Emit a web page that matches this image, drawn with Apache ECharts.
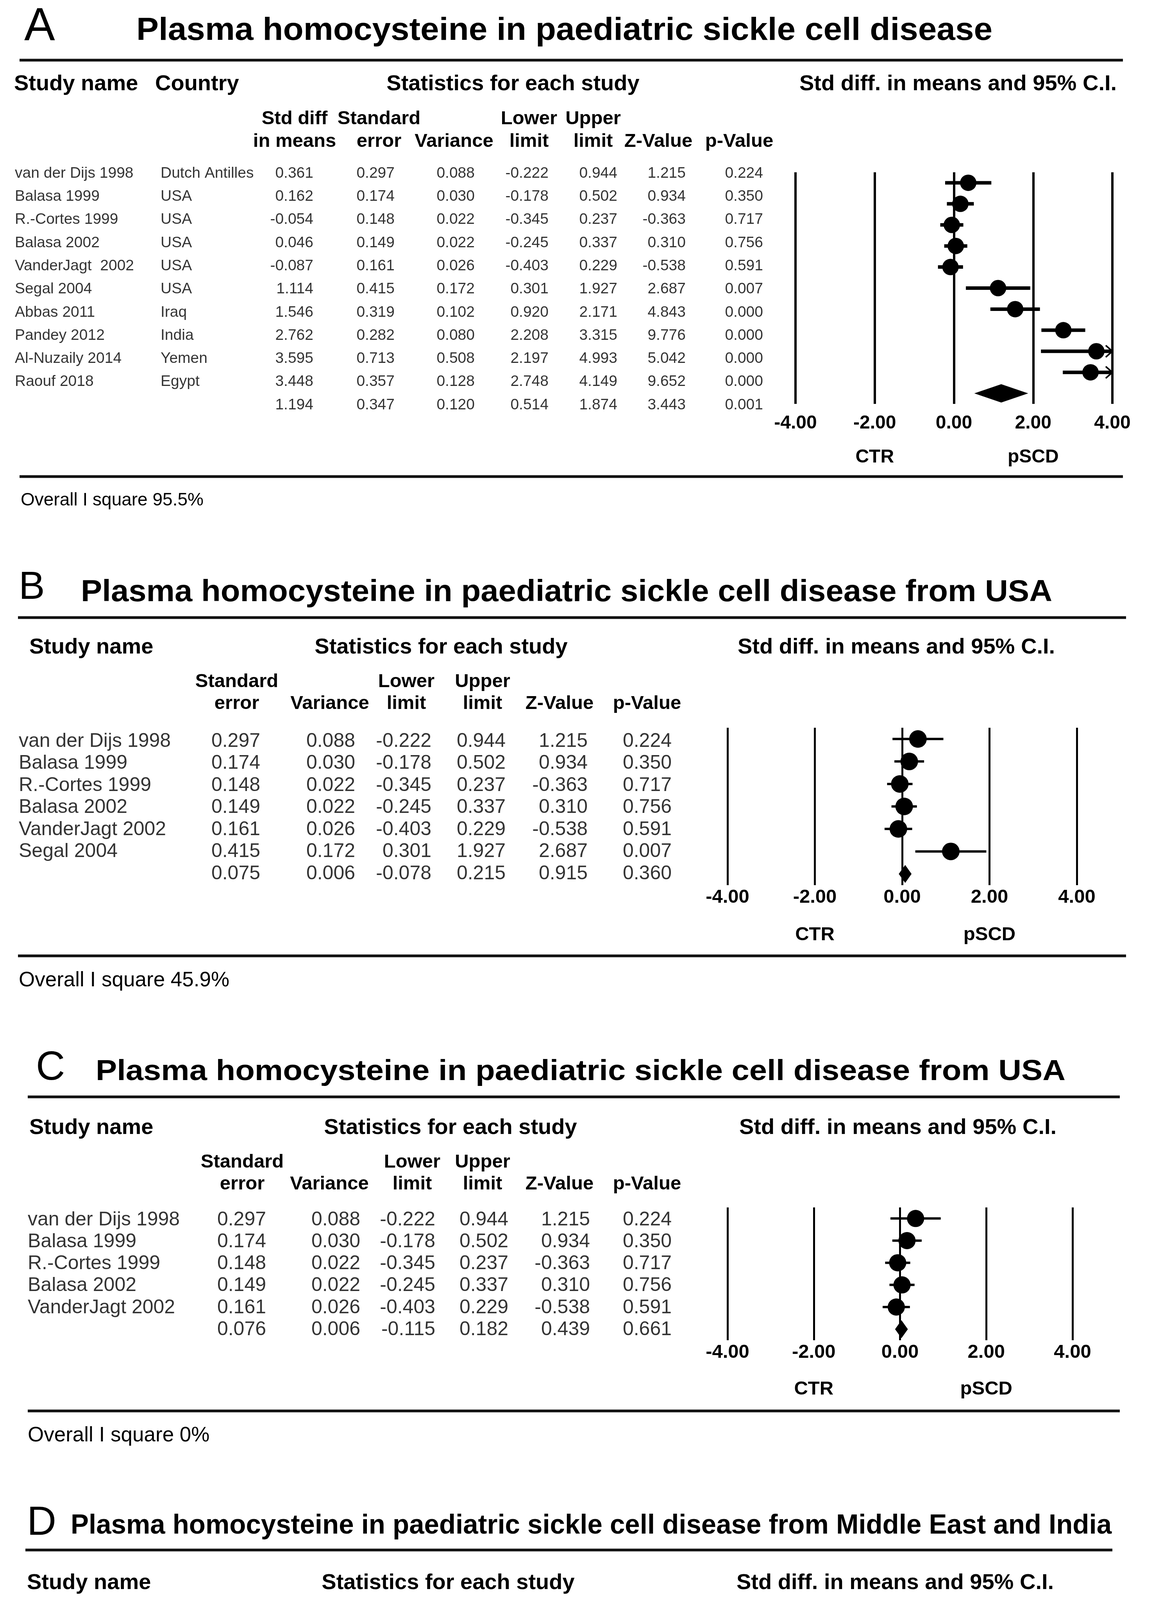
<!DOCTYPE html>
<html><head><meta charset="utf-8">
<script src="https://cdn.jsdelivr.net/npm/echarts@6/dist/echarts.min.js"></script>
<style>html,body{margin:0;padding:0;background:#fff;}#c{width:2974px;height:4836px;}</style>
</head><body><div id="c"></div>
<script>
// ---------------- DATA ----------------
const titleA = 'Plasma homocysteine in paediatric sickle cell disease';
const titleB = 'Plasma homocysteine in paediatric sickle cell disease from USA';
const titleC = 'Plasma homocysteine in paediatric sickle cell disease from USA';
const titleD = 'Plasma homocysteine in paediatric sickle cell disease from Middle East and India';

// Panel A (last element of each numeric array = pooled summary row)
const studiesA = ['van der Dijs 1998','Balasa 1999','R.-Cortes 1999','Balasa 2002','VanderJagt  2002','Segal 2004','Abbas 2011','Pandey 2012','Al-Nuzaily 2014','Raouf 2018'];
const countriesA = ['Dutch Antilles','USA','USA','USA','USA','USA','Iraq','India','Yemen','Egypt'];
const smdA   = [0.361, 0.162, -0.054, 0.046, -0.087, 1.114, 1.546, 2.762, 3.595, 3.448, 1.194];
const seA    = [0.297, 0.174, 0.148, 0.149, 0.161, 0.415, 0.319, 0.282, 0.713, 0.357, 0.347];
const varA   = [0.088, 0.030, 0.022, 0.022, 0.026, 0.172, 0.102, 0.080, 0.508, 0.128, 0.120];
const lowerA = [-0.222, -0.178, -0.345, -0.245, -0.403, 0.301, 0.920, 2.208, 2.197, 2.748, 0.514];
const upperA = [0.944, 0.502, 0.237, 0.337, 0.229, 1.927, 2.171, 3.315, 4.993, 4.149, 1.874];
const zA     = [1.215, 0.934, -0.363, 0.310, -0.538, 2.687, 4.843, 9.776, 5.042, 9.652, 3.443];
const pA     = [0.224, 0.350, 0.717, 0.756, 0.591, 0.007, 0.000, 0.000, 0.000, 0.000, 0.001];
const i2A = '95.5%';

// Panel B
const studiesB = ['van der Dijs 1998','Balasa 1999','R.-Cortes 1999','Balasa 2002','VanderJagt 2002','Segal 2004'];
const smdB   = [0.361, 0.162, -0.054, 0.046, -0.087, 1.114, 0.069];
const seB    = [0.297, 0.174, 0.148, 0.149, 0.161, 0.415, 0.075];
const varB   = [0.088, 0.030, 0.022, 0.022, 0.026, 0.172, 0.006];
const lowerB = [-0.222, -0.178, -0.345, -0.245, -0.403, 0.301, -0.078];
const upperB = [0.944, 0.502, 0.237, 0.337, 0.229, 1.927, 0.215];
const zB     = [1.215, 0.934, -0.363, 0.310, -0.538, 2.687, 0.915];
const pB     = [0.224, 0.350, 0.717, 0.756, 0.591, 0.007, 0.360];
const i2B = '45.9%';

// Panel C
const studiesC = ['van der Dijs 1998','Balasa 1999','R.-Cortes 1999','Balasa 2002','VanderJagt 2002'];
const smdC   = [0.361, 0.162, -0.054, 0.046, -0.087, 0.033];
const seC    = [0.297, 0.174, 0.148, 0.149, 0.161, 0.076];
const varC   = [0.088, 0.030, 0.022, 0.022, 0.026, 0.006];
const lowerC = [-0.222, -0.178, -0.345, -0.245, -0.403, -0.115];
const upperC = [0.944, 0.502, 0.237, 0.337, 0.229, 0.182];
const zC     = [1.215, 0.934, -0.363, 0.310, -0.538, 0.439];
const pC     = [0.224, 0.350, 0.717, 0.756, 0.591, 0.661];
const i2C = '0%';

// Panel D
const studiesD = ['Abbas 2011','Pandey 2012','Al-Nuzaily 2014','Raouf 2018'];
const smdD   = [1.546, 2.762, 3.595, 3.448, 2.608];
const seD    = [0.319, 0.282, 0.713, 0.357, 0.176];
const varD   = [0.102, 0.080, 0.508, 0.128, 0.031];
const lowerD = [0.920, 2.208, 2.197, 2.748, 2.263];
const upperD = [2.171, 3.315, 4.993, 4.149, 2.954];
const zD     = [4.843, 9.776, 5.042, 9.652, 14.791];
const pD     = [0.000, 0.000, 0.000, 0.000, 0.000];
const i2D = '84.0%';

// Axis tick labels
const tickValues = [-4, -2, 0, 2, 4];
const sideLabels = { '-2': 'CTR', '2': 'pSCD' };
const ciHeader = 'Std diff. in means and 95% C.I.';
const headsA = [['Std diff','in means'],['Standard','error'],['','Variance'],['Lower','limit'],['Upper','limit'],['','Z-Value'],['','p-Value']];
const headsBCD = [['Standard','error'],['','Variance'],['Lower','limit'],['Upper','limit'],['','Z-Value'],['','p-Value']];

// ---------------- LAYOUT ----------------
const FONT = "'Liberation Sans', Arial, Helvetica, sans-serif";
const W = 2974, H = 4836;
const layoutA = {letterX:62, letterY:70, letterSize:118, titleX:349, titleY:80, titleW:2191, titleSize:81,
  ruleX1:50, ruleX2:2874, ruleTopY:154, ruleBotY:1220, ruleW:7,
  headY:216, headSize:56, studyHeadX:36, countryHeadX:397, statsX:1313, ciHeadX:2452,
  sub1Y:304, sub2Y:362, subSize:49, colHead:[754,970,1162,1354,1518,1685,1892],
  row0:444, rowN:1037, nameX:38, countryX:411, colRight:[802,1010,1215,1404,1580,1755,1953], dataSize:39,
  fx0:2036, fx1:2847, ftop:441, fbot:1034, tickMargin:26, sideOffset:113, tickSize:48, ciW:9, gridW:6, dot:42, dH:47,
  overallX:53, overallY:1281, overallSize:46};
const layoutB = {letterX:48, letterY:1505, letterSize:100, titleX:207, titleY:1517, titleW:2486, titleSize:78,
  ruleX1:46, ruleX2:2882, ruleTopY:1581, ruleBotY:2447, ruleW:7,
  headY:1658, headSize:56, studyHeadX:75, statsX:1129, ciHeadX:2294,
  sub1Y:1745, sub2Y:1801, subSize:49, colHead:[606,844,1040,1235,1432,1656],
  row0:1898, rowN:2237, nameX:48, colRight:[666,909,1104,1294,1504,1719], dataSize:50,
  fx0:1862, fx1:2756, ftop:1863, fbot:2266, tickMargin:7, sideOffset:103, tickSize:49, ciW:6, gridW:5, dot:45, dH:46,
  overallX:48, overallY:2510, overallSize:53};
const layoutC = {letterX:92, letterY:2736, letterSize:103, titleX:245, titleY:2745, titleW:2482, titleSize:74,
  ruleX1:71, ruleX2:2866, ruleTopY:2808, ruleBotY:3612, ruleW:7,
  headY:2888, headSize:56, studyHeadX:75, statsX:1153, ciHeadX:2298,
  sub1Y:2975, sub2Y:3031, subSize:49, colHead:[620,843,1055,1235,1432,1656],
  row0:3123, rowN:3404, nameX:71, colRight:[681,922,1114,1301,1510,1719], dataSize:50,
  fx0:1862, fx1:2745, ftop:3091, fbot:3431, tickMargin:7, sideOffset:101, tickSize:49, ciW:6, gridW:5, dot:44, dH:46,
  overallX:71, overallY:3675, overallSize:53};
const layoutD = {letterX:69, letterY:3900, letterSize:104, titleX:181, titleY:3907, titleW:2664, titleSize:70,
  ruleX1:65, ruleX2:2847, ruleTopY:3968, ruleBotY:4724, ruleW:7,
  headY:4053, headSize:56, studyHeadX:69, statsX:1147, ciHeadX:2291,
  sub1Y:4139, sub2Y:4198, subSize:49, colHead:[600,860,1058,1252,1449,1673],
  row0:4284, rowN:4512, nameX:67, colRight:[675,918,1114,1309,1527,1743], dataSize:50,
  fx0:1880, fx1:2727, ftop:4253, fbot:4541, tickMargin:5, sideOffset:99, tickSize:49, ciW:6, gridW:5, dot:45, dH:47,
  overallX:67, overallY:4784, overallSize:53};

const panels = [
  {letter:'A', title:titleA, names:studiesA, country:countriesA, cols:[smdA,seA,varA,lowerA,upperA,zA,pA], heads:headsA, smd:smdA, lower:lowerA, upper:upperA, i2:i2A, L:layoutA},
  {letter:'B', title:titleB, names:studiesB, cols:[seB,varB,lowerB,upperB,zB,pB], heads:headsBCD, smd:smdB, lower:lowerB, upper:upperB, i2:i2B, L:layoutB},
  {letter:'C', title:titleC, names:studiesC, cols:[seC,varC,lowerC,upperC,zC,pC], heads:headsBCD, smd:smdC, lower:lowerC, upper:upperC, i2:i2C, L:layoutC},
  {letter:'D', title:titleD, names:studiesD, cols:[seD,varD,lowerD,upperD,zD,pD], heads:headsBCD, smd:smdD, lower:lowerD, upper:upperD, i2:i2D, L:layoutD}
];

// ---------------- BUILD ----------------
const mctx = document.createElement('canvas').getContext('2d');
function measure(text, font) { mctx.font = font; return mctx.measureText(text).width; }

const grids = [], xAxes = [], yAxes = [], series = [], graphics = [];
function txt(text, x, y, size, weight, align, extra) {
  const font = weight + ' ' + size + 'px ' + FONT;
  graphics.push(Object.assign({type:'text', x:x, y:y, silent:true, z:10,
    style:{text:text, x:0, y:0, fill:'#000', font:font, align:align, verticalAlign:'middle', textAlign:align, textVerticalAlign:'middle'}}, extra || {}));
}

const tMin = tickValues[0], tMax = tickValues[tickValues.length - 1], tInt = tickValues[1] - tickValues[0];

panels.forEach(function (P) {
  const L = P.L;
  txt(P.letter, L.letterX, L.letterY, L.letterSize, 'normal', 'left');
  const tf = 'bold ' + L.titleSize + 'px ' + FONT;
  const sx = L.titleW / measure(P.title, tf);
  txt(P.title, L.titleX, L.titleY, L.titleSize, 'bold', 'left', {scaleX: sx});
  [L.ruleTopY, L.ruleBotY].forEach(function (y) {
    graphics.push({type:'line', silent:true, shape:{x1:L.ruleX1, y1:y, x2:L.ruleX2, y2:y}, style:{stroke:'#111', lineWidth:L.ruleW}});
  });
  txt('Study name', L.studyHeadX, L.headY, L.headSize, 'bold', 'left');
  if (P.country) txt('Country', L.countryHeadX, L.headY, L.headSize, 'bold', 'left');
  txt('Statistics for each study', L.statsX, L.headY, L.headSize, 'bold', 'center');
  txt(ciHeader, L.ciHeadX, L.headY, L.headSize, 'bold', 'center');
  P.heads.forEach(function (h, i) {
    if (h[0]) txt(h[0], L.colHead[i], L.sub1Y, L.subSize, 'bold', 'center');
    if (h[1]) txt(h[1], L.colHead[i], L.sub2Y, L.subSize, 'bold', 'center');
  });
  txt('Overall I square ' + P.i2, L.overallX, L.overallY, L.overallSize, 'normal', 'left');

  // ---- table grid ----
  const n = P.names.length + 1;
  const s = (L.rowN - L.row0) / (n - 1);
  const gi = grids.length;
  grids.push({left:0, width:W, top:L.row0 - s / 2, height:n * s});
  xAxes.push({type:'value', gridIndex:gi, min:0, max:W, show:false});
  const xi = xAxes.length - 1;
  const rowsCat = P.names.concat(['Summary']);
  yAxes.push({type:'category', gridIndex:gi, inverse:true, data:rowsCat, show:false});
  const yi = yAxes.length - 1;
  function colSeries(x, texts, align) {
    const data = [];
    texts.forEach(function (t, i) { if (t !== '') data.push({value:[x, i], name:t}); });
    series.push({type:'scatter', xAxisIndex:xi, yAxisIndex:yi, symbolSize:1, silent:true,
      itemStyle:{color:'rgba(0,0,0,0)'}, data:data,
      label:{show:true, position:'inside', align:align, verticalAlign:'middle', color:'#000',
        fontSize:L.dataSize, fontFamily:FONT, formatter:function (p) { return p.name; }}});
  }
  colSeries(L.nameX, P.names, 'left');
  if (P.country) colSeries(L.countryX, P.country, 'left');
  P.cols.forEach(function (c, i) { colSeries(L.colRight[i], c.map(function (v) { return v.toFixed(3); }), 'right'); });

  // ---- forest grid ----
  const fg = grids.length;
  grids.push({left:L.fx0, width:L.fx1 - L.fx0, top:L.ftop, height:L.fbot - L.ftop});
  xAxes.push({type:'value', gridIndex:fg, position:'bottom', min:tMin, max:tMax, interval:tInt,
    axisLine:{show:false}, axisTick:{show:false},
    splitLine:{show:true, lineStyle:{color:'#000', width:L.gridW}},
    axisLabel:{margin:L.tickMargin, color:'#000', fontSize:L.tickSize, fontWeight:'bold', fontFamily:FONT,
      formatter:function (v) { return v.toFixed(2); }}});
  const fxi = xAxes.length - 1;
  xAxes.push({type:'value', gridIndex:fg, position:'bottom', offset:L.sideOffset, min:tMin, max:tMax, interval:tInt,
    axisLine:{show:false}, axisTick:{show:false}, splitLine:{show:false},
    axisLabel:{margin:0, color:'#000', fontSize:L.tickSize, fontWeight:'bold', fontFamily:FONT,
      formatter:function (v) { return sideLabels[v] || ''; }}});
  yAxes.push({type:'category', gridIndex:fg, inverse:true, data:rowsCat, show:false});
  const fyi = yAxes.length - 1;
  const ciW = L.ciW, dH = L.dH;

  series.push({type:'custom', xAxisIndex:fxi, yAxisIndex:fyi, silent:true, z:2,
    data:P.names.map(function (_, i) { return [P.lower[i], P.upper[i], i]; }),
    encode:{x:[0, 1], y:2},
    renderItem:function (params, api) {
      const lo = api.value(0), hi = api.value(1), row = api.value(2);
      const a = api.coord([Math.max(lo, tMin), row]);
      const b = api.coord([Math.min(hi, tMax), row]);
      const ch = [{type:'line', shape:{x1:a[0], y1:a[1], x2:b[0], y2:b[1]}, style:{stroke:'#000', lineWidth:ciW, opacity:1}}];
      if (hi > tMax) {
        ch.push({type:'polyline', shape:{points:[[b[0] - 17, b[1] - 15], [b[0], b[1]], [b[0] - 17, b[1] + 15]]},
          style:{stroke:'#000', fill:null, lineWidth:4, opacity:1}});
      }
      return {type:'group', children:ch};
    }});
  series.push({type:'scatter', xAxisIndex:fxi, yAxisIndex:fyi, silent:true, z:3,
    symbol:'circle', symbolSize:L.dot, itemStyle:{color:'#000', opacity:1},
    data:P.names.map(function (_, i) { return [P.smd[i], i]; })});
  const k = P.names.length;
  series.push({type:'custom', xAxisIndex:fxi, yAxisIndex:fyi, silent:true, z:3,
    data:[[P.lower[k], P.upper[k], k, P.smd[k]]],
    encode:{x:[0, 1, 3], y:2},
    renderItem:function (params, api) {
      const lo = api.value(0), hi = api.value(1), row = api.value(2), est = api.value(3);
      const a = api.coord([lo, row]), b = api.coord([hi, row]), c = api.coord([est, row]);
      return {type:'polygon', shape:{points:[[a[0], a[1]], [c[0], c[1] - dH / 2], [b[0], b[1]], [c[0], c[1] + dH / 2]]},
        style:{fill:'#000', opacity:1}};
    }});
});

const chart = echarts.init(document.getElementById('c'), null, {renderer:'canvas', width:W, height:H});
chart.setOption({
  animation:false,
  backgroundColor:'#fff',
  grid:grids, xAxis:xAxes, yAxis:yAxes, series:series, graphic:graphics
});
</script>
</body></html>
